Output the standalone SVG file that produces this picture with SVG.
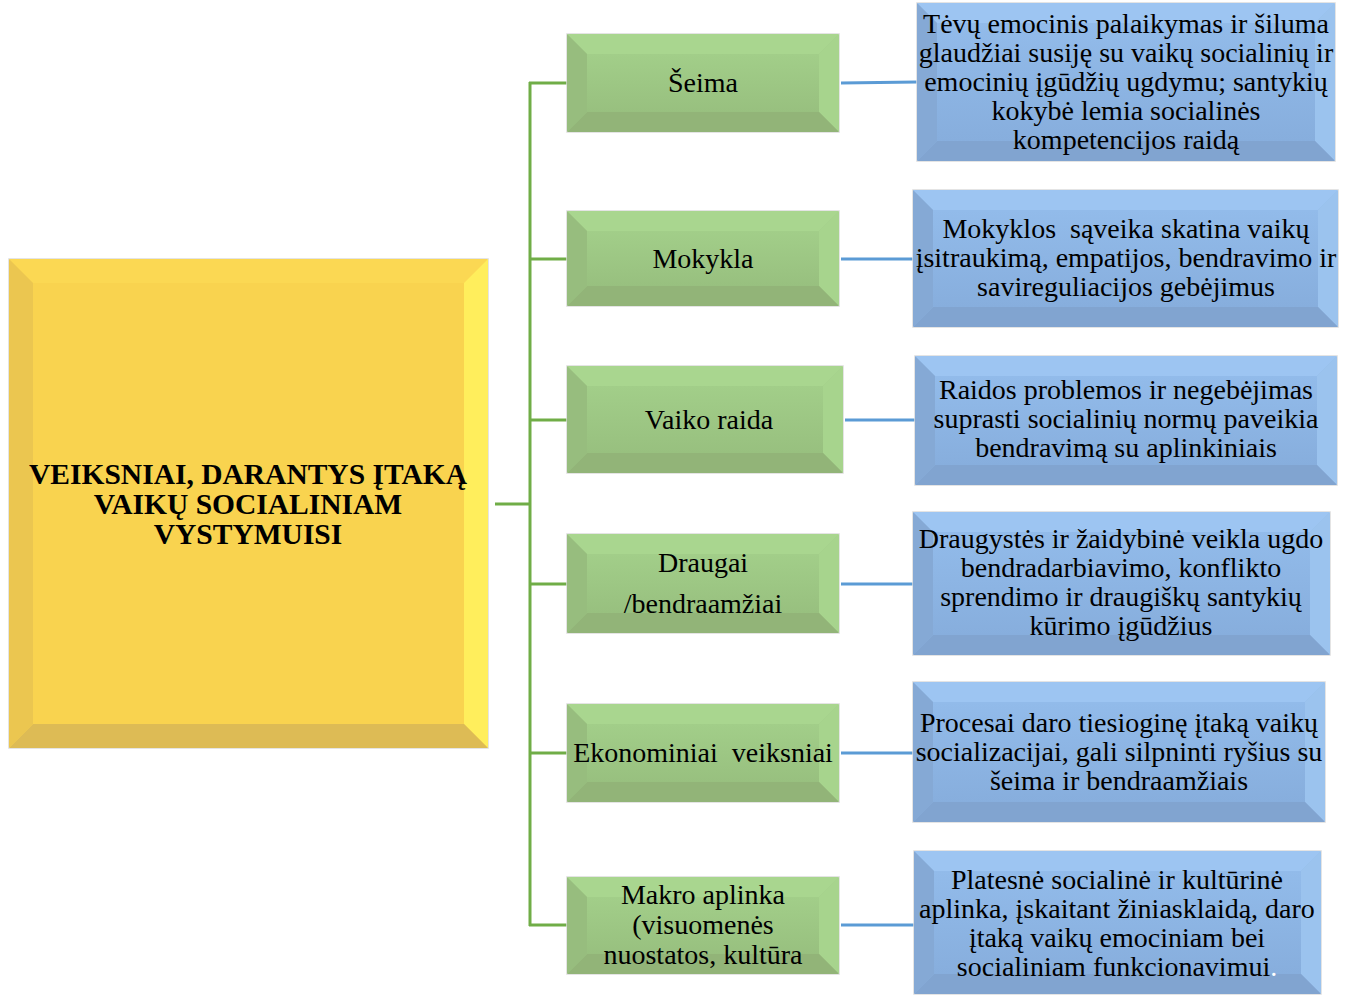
<svg xmlns="http://www.w3.org/2000/svg" width="1353" height="996" viewBox="0 0 1353 996">
<defs>
<linearGradient id="gFace" x1="0" y1="0" x2="0" y2="1"><stop offset="0" stop-color="#A2CE89"/><stop offset="1" stop-color="#98C07F"/></linearGradient>
<linearGradient id="bFace" x1="0" y1="0" x2="0" y2="1"><stop offset="0" stop-color="#92BBEA"/><stop offset="1" stop-color="#87AEDD"/></linearGradient>
<linearGradient id="yFace" x1="0" y1="0" x2="0" y2="1"><stop offset="0" stop-color="#FBD651"/><stop offset="1" stop-color="#F8D24E"/></linearGradient>
</defs>
<style>
.face{stroke:#DCDCDC;stroke-width:1.5}
.g{fill:url(#gFace)}
.b{fill:url(#bFace)}
.y{fill:url(#yFace)}
.gt{fill:#A9D68F}.gr{fill:#A7D48D}.gb{fill:#92B478}.gl{fill:#97BD7E}
.bt{fill:#9DC5F2}.br{fill:#9BC3EE}.bb{fill:#81A4D0}.bl{fill:#85A9D5}
.yt{fill:#FBD853}.yr{fill:#FFEE5C}.yb{fill:#DDBB55}.yl{fill:#EBC650}
.lbl{font-family:"Liberation Serif","Times New Roman",serif;font-size:28px;fill:#000;text-anchor:middle}
.ttl{font-family:"Liberation Serif","Times New Roman",serif;font-size:29.5px;font-weight:bold;fill:#000;text-anchor:middle}
.cg{stroke:#70AD47;stroke-width:3;fill:none}
.cb{stroke:#5B9BD5;stroke-width:3;fill:none}
</style>

<g id="connectors">
<line class="cg" x1="495" y1="504" x2="530" y2="504"/>
<line class="cg" x1="530" y1="82" x2="530" y2="926"/>
<line class="cg" x1="529" y1="83" x2="567" y2="83"/>
<line class="cg" x1="529" y1="259" x2="567" y2="259"/>
<line class="cg" x1="529" y1="420" x2="567" y2="420"/>
<line class="cg" x1="529" y1="584" x2="567" y2="584"/>
<line class="cg" x1="529" y1="753" x2="567" y2="753"/>
<line class="cg" x1="529" y1="925" x2="567" y2="925"/>
<line class="cb" x1="841" y1="83" x2="917" y2="82"/>
<line class="cb" x1="841" y1="259" x2="913" y2="259"/>
<line class="cb" x1="845" y1="420" x2="915" y2="420"/>
<line class="cb" x1="841" y1="584" x2="913" y2="584"/>
<line class="cb" x1="841" y1="753" x2="913" y2="753"/>
<line class="cb" x1="841" y1="925" x2="914" y2="925"/>
</g>

<g id="root">
<rect class="face y" x="9" y="259" width="479" height="489"/>
<polygon class="yt" points="9,259 488,259 464,283 33,283"/>
<polygon class="yr" points="488,259 488,748 464,724 464,283"/>
<polygon class="yb" points="9,748 488,748 464,724 33,724"/>
<polygon class="yl" points="9,259 9,748 33,724 33,283"/>
<rect x="33" y="283" width="431" height="441" fill="#F9D34F"/>
<text class="ttl" x="248" y="484">VEIKSNIAI, DARANTYS ĮTAKĄ</text>
<text class="ttl" x="248" y="514">VAIKŲ SOCIALINIAM</text>
<text class="ttl" x="248" y="544">VYSTYMUISI</text>
</g>

<g id="seima">
<rect class="face g" x="567" y="34" width="272" height="98"/>
<polygon class="gt" points="567,34 839,34 819,54 587,54"/>
<polygon class="gr" points="839,34 839,132 819,112 819,54"/>
<polygon class="gb" points="567,132 839,132 819,112 587,112"/>
<polygon class="gl" points="567,34 567,132 587,112 587,54"/>
<rect class="g" x="587" y="54" width="232" height="58"/>
<text class="lbl" x="703" y="92">Šeima</text>
</g>

<g id="mokykla">
<rect class="face g" x="567" y="211" width="272" height="95"/>
<polygon class="gt" points="567,211 839,211 819,231 587,231"/>
<polygon class="gr" points="839,211 839,306 819,286 819,231"/>
<polygon class="gb" points="567,306 839,306 819,286 587,286"/>
<polygon class="gl" points="567,211 567,306 587,286 587,231"/>
<rect class="g" x="587" y="231" width="232" height="55"/>
<text class="lbl" x="703" y="268">Mokykla</text>
</g>

<g id="vaiko-raida">
<rect class="face g" x="567" y="366" width="276" height="107"/>
<polygon class="gt" points="567,366 843,366 823,386 587,386"/>
<polygon class="gr" points="843,366 843,473 823,453 823,386"/>
<polygon class="gb" points="567,473 843,473 823,453 587,453"/>
<polygon class="gl" points="567,366 567,473 587,453 587,386"/>
<rect class="g" x="587" y="386" width="236" height="67"/>
<text class="lbl" x="709" y="429">Vaiko raida</text>
</g>

<g id="draugai">
<rect class="face g" x="567" y="534" width="272" height="99"/>
<polygon class="gt" points="567,534 839,534 819,554 587,554"/>
<polygon class="gr" points="839,534 839,633 819,613 819,554"/>
<polygon class="gb" points="567,633 839,633 819,613 587,613"/>
<polygon class="gl" points="567,534 567,633 587,613 587,554"/>
<rect class="g" x="587" y="554" width="232" height="59"/>
<text class="lbl" x="703" y="572">Draugai</text>
<text class="lbl" x="703" y="613">/bendraamžiai</text>
</g>

<g id="ekonominiai">
<rect class="face g" x="567" y="704" width="272" height="98"/>
<polygon class="gt" points="567,704 839,704 819,724 587,724"/>
<polygon class="gr" points="839,704 839,802 819,782 819,724"/>
<polygon class="gb" points="567,802 839,802 819,782 587,782"/>
<polygon class="gl" points="567,704 567,802 587,782 587,724"/>
<rect class="g" x="587" y="724" width="232" height="58"/>
<text class="lbl" x="703" y="762">Ekonominiai&#160; veiksniai</text>
</g>

<g id="makro">
<rect class="face g" x="567" y="877" width="272" height="97"/>
<polygon class="gt" points="567,877 839,877 819,897 587,897"/>
<polygon class="gr" points="839,877 839,974 819,954 819,897"/>
<polygon class="gb" points="567,974 839,974 819,954 587,954"/>
<polygon class="gl" points="567,877 567,974 587,954 587,897"/>
<rect class="g" x="587" y="897" width="232" height="57"/>
<text class="lbl" x="703" y="904">Makro aplinka</text>
<text class="lbl" x="703" y="934">(visuomenės</text>
<text class="lbl" x="703" y="964">nuostatos, kultūra</text>
</g>

<g id="desc-seima">
<rect class="face b" x="917" y="3" width="418" height="158"/>
<polygon class="bt" points="917,3 1335,3 1315,23 937,23"/>
<polygon class="br" points="1335,3 1335,161 1315,141 1315,23"/>
<polygon class="bb" points="917,161 1335,161 1315,141 937,141"/>
<polygon class="bl" points="917,3 917,161 937,141 937,23"/>
<rect class="b" x="937" y="23" width="378" height="118"/>
<text class="lbl" x="1126" y="33">Tėvų emocinis palaikymas ir šiluma</text>
<text class="lbl" x="1126" y="62">glaudžiai susiję su vaikų socialinių ir</text>
<text class="lbl" x="1126" y="91">emocinių įgūdžių ugdymu; santykių</text>
<text class="lbl" x="1126" y="120">kokybė lemia socialinės</text>
<text class="lbl" x="1126" y="149">kompetencijos raidą</text>
</g>

<g id="desc-mokykla">
<rect class="face b" x="913" y="190" width="425" height="137"/>
<polygon class="bt" points="913,190 1338,190 1318,210 933,210"/>
<polygon class="br" points="1338,190 1338,327 1318,307 1318,210"/>
<polygon class="bb" points="913,327 1338,327 1318,307 933,307"/>
<polygon class="bl" points="913,190 913,327 933,307 933,210"/>
<rect class="b" x="933" y="210" width="385" height="97"/>
<text class="lbl" x="1126" y="238">Mokyklos&#160; sąveika skatina vaikų</text>
<text class="lbl" x="1126" y="267">įsitraukimą, empatijos, bendravimo ir</text>
<text class="lbl" x="1126" y="296">savireguliacijos gebėjimus</text>
</g>

<g id="desc-raida">
<rect class="face b" x="915" y="356" width="422" height="129"/>
<polygon class="bt" points="915,356 1337,356 1317,376 935,376"/>
<polygon class="br" points="1337,356 1337,485 1317,465 1317,376"/>
<polygon class="bb" points="915,485 1337,485 1317,465 935,465"/>
<polygon class="bl" points="915,356 915,485 935,465 935,376"/>
<rect class="b" x="935" y="376" width="382" height="89"/>
<text class="lbl" x="1126" y="399">Raidos problemos ir negebėjimas</text>
<text class="lbl" x="1126" y="428">suprasti socialinių normų paveikia</text>
<text class="lbl" x="1126" y="457">bendravimą su aplinkiniais</text>
</g>

<g id="desc-draugai">
<rect class="face b" x="913" y="512" width="417" height="143"/>
<polygon class="bt" points="913,512 1330,512 1310,532 933,532"/>
<polygon class="br" points="1330,512 1330,655 1310,635 1310,532"/>
<polygon class="bb" points="913,655 1330,655 1310,635 933,635"/>
<polygon class="bl" points="913,512 913,655 933,635 933,532"/>
<rect class="b" x="933" y="532" width="377" height="103"/>
<text class="lbl" x="1121" y="548">Draugystės ir žaidybinė veikla ugdo</text>
<text class="lbl" x="1121" y="577">bendradarbiavimo, konflikto</text>
<text class="lbl" x="1121" y="606">sprendimo ir draugiškų santykių</text>
<text class="lbl" x="1121" y="635">kūrimo įgūdžius</text>
</g>

<g id="desc-ekonominiai">
<rect class="face b" x="913" y="682" width="412" height="140"/>
<polygon class="bt" points="913,682 1325,682 1305,702 933,702"/>
<polygon class="br" points="1325,682 1325,822 1305,802 1305,702"/>
<polygon class="bb" points="913,822 1325,822 1305,802 933,802"/>
<polygon class="bl" points="913,682 913,822 933,802 933,702"/>
<rect class="b" x="933" y="702" width="372" height="100"/>
<text class="lbl" x="1119" y="732">Procesai daro tiesioginę įtaką vaikų</text>
<text class="lbl" x="1119" y="761">socializacijai, gali silpninti ryšius su</text>
<text class="lbl" x="1119" y="790">šeima ir bendraamžiais</text>
</g>

<g id="desc-makro">
<rect class="face b" x="914" y="851" width="407" height="143"/>
<polygon class="bt" points="914,851 1321,851 1301,871 934,871"/>
<polygon class="br" points="1321,851 1321,994 1301,974 1301,871"/>
<polygon class="bb" points="914,994 1321,994 1301,974 934,974"/>
<polygon class="bl" points="914,851 914,994 934,974 934,871"/>
<rect class="b" x="934" y="871" width="367" height="103"/>
<text class="lbl" x="1117" y="889">Platesnė socialinė ir kultūrinė</text>
<text class="lbl" x="1117" y="918">aplinka, įskaitant žiniasklaidą, daro</text>
<text class="lbl" x="1117" y="947">įtaką vaikų emociniam bei</text>
<text class="lbl" x="1117" y="976">socialiniam funkcionavimui<tspan fill="#FFFFFF">.</tspan></text>
</g>
</svg>
